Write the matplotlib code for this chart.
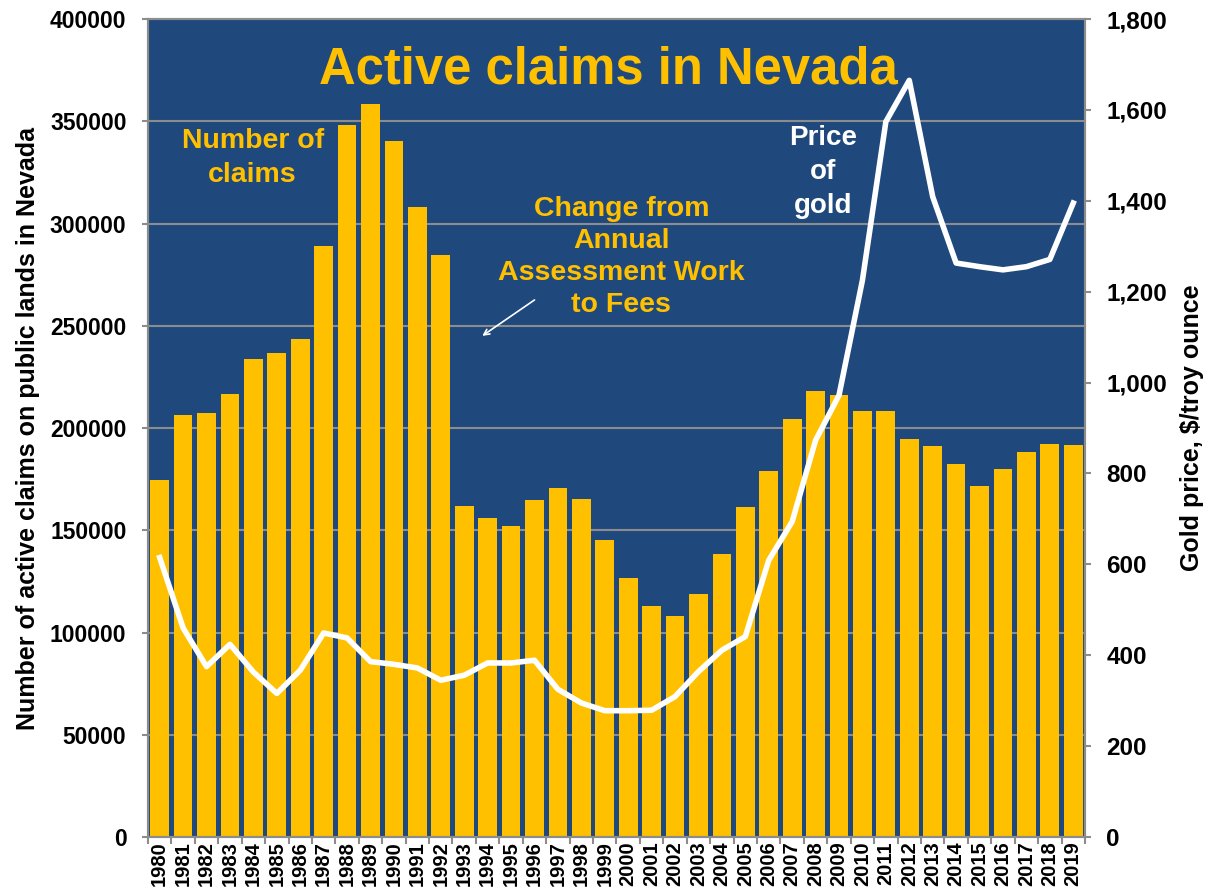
import numpy as np
import matplotlib.pyplot as plt
from matplotlib.ticker import FuncFormatter

plt.rcParams['font.family'] = ['Liberation Sans', 'DejaVu Sans']

years = [str(y) for y in range(1980, 2020)]

claims = [174600, 206400, 207300, 216600, 233700, 236800, 243500, 289000, 348000, 358400,
          340500, 308000, 284800, 161900, 155800, 152100, 164800, 170800, 165300, 145200,
          126800, 113100, 108100, 118700, 138200, 161500, 179000, 204400, 218100, 216100,
          208500, 208500, 194500, 191200, 182200, 171800, 179800, 188100, 192000, 191500]

gold = [615, 460, 375, 424, 363, 316, 367, 449, 438, 386,
        380, 372, 345, 356, 383, 383, 389, 325, 295, 278,
        278, 279, 309, 364, 411, 441, 609, 694, 873, 972,
        1225, 1574, 1665, 1409, 1263, 1255, 1248, 1255, 1271, 1395]

navy = '#1F497D'
gold_col = '#FFC000'
grey = '#8C8C8C'

fig = plt.figure(figsize=(12.09, 8.88), dpi=100)
ax = fig.add_axes([0.1224, 0.0574, 0.775, 0.9212])
ax.set_facecolor(navy)

x = np.arange(len(years))
ax.bar(x, claims, width=0.8, color=gold_col, zorder=2)
ax.set_xlim(-0.5, len(years) - 0.5)
ax.set_ylim(0, 400000)
ax.set_yticks(np.arange(0, 400001, 50000))
ax.yaxis.grid(True, color=grey, linewidth=1.5, zorder=1)
ax.set_axisbelow(True)

ax.set_xticks(x)
ax.set_xticklabels(years, rotation=90, fontsize=14.5, fontweight='bold')
ax.tick_params(axis='x', length=0, pad=3)
ax.set_xticks(np.arange(-0.5, len(years), 1), minor=True)
ax.tick_params(axis='x', which='minor', length=5, color=grey, width=1.5)
ax.tick_params(axis='y', labelsize=16.5, color=grey, length=4.5, width=1.5, pad=11)
for lab in ax.get_yticklabels():
    lab.set_fontweight('bold')
ax.set_ylabel('Number of active claims on public lands in Nevada', fontsize=18,
              fontweight='bold', labelpad=7)

for s in ax.spines.values():
    s.set_color(grey)
    s.set_linewidth(1.5)

ax2 = ax.twinx()
ax2.plot(x, gold, color='white', linewidth=4, zorder=5)
ax2.set_ylim(0, 1800)
ax2.set_yticks(np.arange(0, 1801, 200))
ax2.yaxis.set_major_formatter(FuncFormatter(lambda v, p: f'{int(v):,}'))
ax2.tick_params(axis='y', labelsize=17.5, color=grey, length=4.5, width=1.5, pad=11)
for lab in ax2.get_yticklabels():
    lab.set_fontweight('bold')
ax2.set_ylabel('Gold price, $/troy ounce', fontsize=18, fontweight='bold', labelpad=9)
for s in ax2.spines.values():
    s.set_color(grey)
    s.set_linewidth(1.5)

# text on the chart
fig.text(0.503, 0.9215, 'Active claims in Nevada', color=gold_col, fontsize=36.5,
         fontweight='bold', ha='center', va='center')
fig.text(0.209, 0.822, 'Number of\nclaims', color=gold_col, fontsize=20.5,
         fontweight='bold', ha='center', va='center', linespacing=1.4)
fig.text(0.514, 0.7106, 'Change from\nAnnual\nAssessment Work\nto Fees', color=gold_col,
         fontsize=20.5, fontweight='bold', ha='center', va='center', linespacing=1.3)
fig.text(0.681, 0.806, 'Price\nof\ngold', color='white', fontsize=20,
         fontweight='bold', ha='center', va='center', linespacing=1.4)
ax.annotate('', xy=(0.397, 0.62), xytext=(0.444, 0.664), xycoords='figure fraction',
            textcoords='figure fraction',
            arrowprops=dict(arrowstyle='->', color='white', lw=1.2))

fig.savefig('out.png', dpi=100)
